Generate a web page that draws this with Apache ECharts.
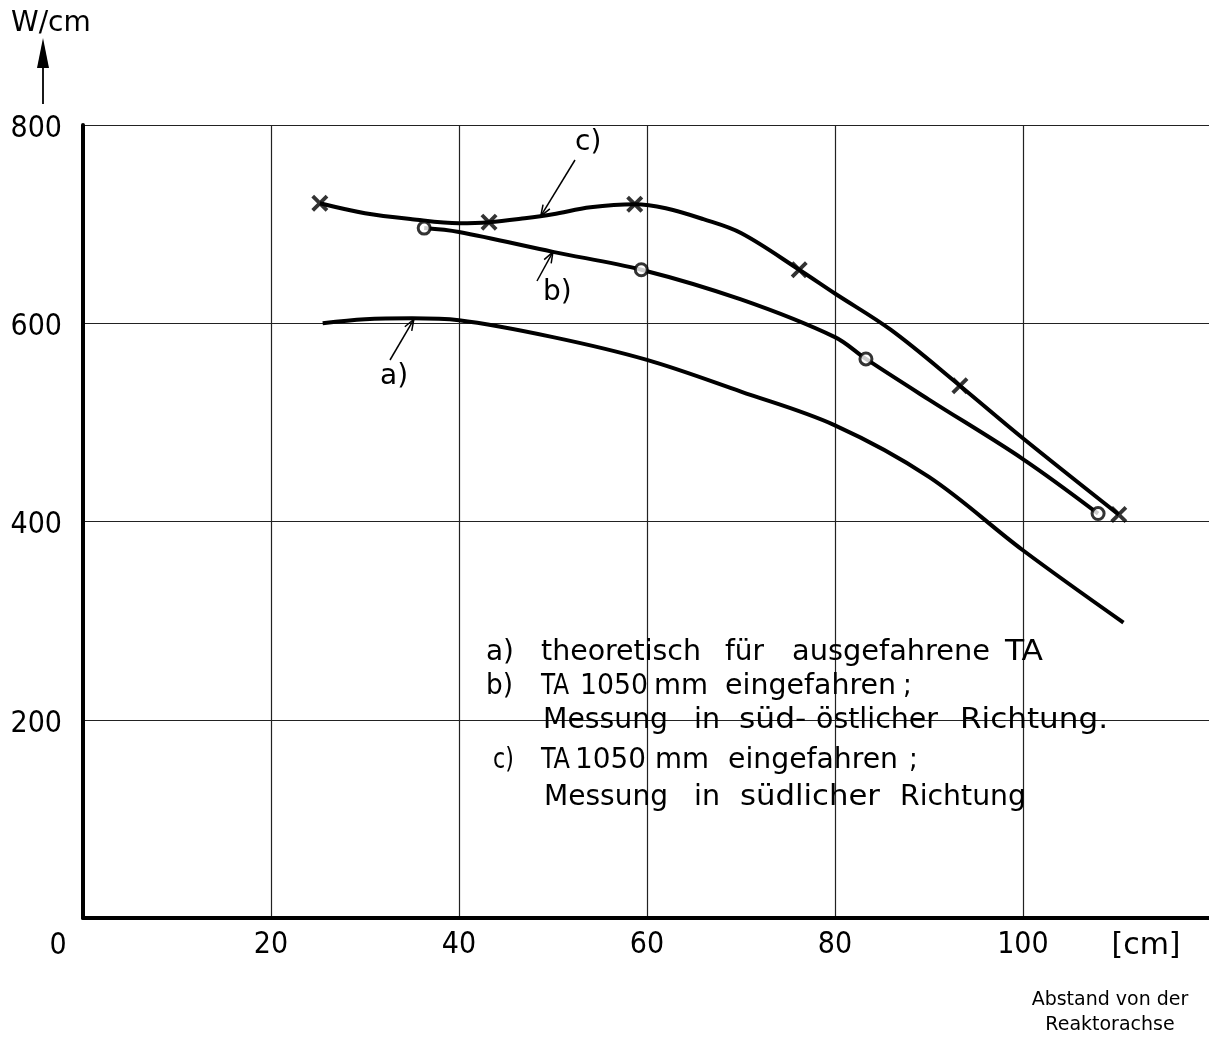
<!DOCTYPE html>
<html><head><meta charset="utf-8">
<script src="https://cdn.jsdelivr.net/npm/echarts@6/dist/echarts.min.js"></script>
<style>html,body{margin:0;padding:0;background:#fff}#c{width:1209px;height:1038px}</style>
</head><body><div id="c"></div>
<script>
// ---- data ----
const xMax = 119.8;
const yMax = 800;
const yTickLabels = ['200', '400', '600', '800'];
const xTickLabels = ['20', '40', '60', '80', '100'];

// a) theoretisch für ausgefahrene TA (curve only)
const curveA_x = [25.5, 30, 35, 40, 50, 60, 70, 80, 90, 100, 110.7];
const curveA_y = [600, 604, 605, 603, 586, 563, 531, 497, 445, 371, 298];
// b) TA 1050 mm eingefahren; süd-östlich (curve + circles)
const curveB_x = [36.3, 40, 50, 59.4, 70, 80, 83.3, 90, 100, 108];
const curveB_y = [696, 692, 672, 654, 624, 586, 564, 523, 463, 408];
const measB_x = [36.3, 59.4, 83.3, 108];
const measB_y = [696, 654, 564, 408];
// c) TA 1050 mm eingefahren; südlich (curve + crosses)
const curveC_x = [25.2, 30, 35, 40, 43.2, 47, 50, 54, 58.7, 62, 66, 70, 76.2, 80, 86, 93.3, 100, 110.2];
const curveC_y = [721, 711, 705, 701, 702, 706, 710, 717, 720, 716, 705, 691, 654, 630, 593, 537, 484, 407];
const measC_x = [25.2, 43.2, 58.7, 76.2, 93.3, 110.2];
const measC_y = [721, 702, 720, 654, 537, 407];

// legend text (words per line)
const legendWords = [
  ['a)', 'theoretisch', 'für', 'ausgefahrene', 'TA'],
  ['b)', 'TA', '1050', 'mm', 'eingefahren', ';'],
  ['Messung', 'in', 'süd-', 'östlicher', 'Richtung.'],
  ['c)', 'TA', '1050', 'mm', 'eingefahren', ';'],
  ['Messung', 'in', 'südlicher', 'Richtung']
];
// layout only: line centre y and [left, right] pixel extent of each word
const legendLineY = [652, 686, 720, 760, 797];
const legendWordBox = [
  [[486, 514], [541, 701], [725, 764], [792, 990], [1005, 1043]],
  [[486, 513], [541, 569], [580, 648], [654, 708], [725, 896], [903, 908]],
  [[543, 668], [694, 720], [739, 810], [816, 938], [960, 1108]],
  [[493, 513], [541, 570], [575, 646], [655, 709], [728, 898], [909, 914]],
  [[544, 668], [694, 720], [740, 880], [900, 1026]]
];

const zip = (xs, ys) => xs.map((x, i) => [x, ys[i]]);
const NUMFONT = "'DejaVu Sans Condensed','Liberation Sans Narrow','DejaVu Sans',sans-serif";
const TXTFONT = "'DejaVu Sans',sans-serif";
const LEGFONT = "'DejaVu Sans Condensed','DejaVu Sans',sans-serif";
const LEG_SIZE = 29;

const chart = echarts.init(document.getElementById('c'), null, {renderer: 'canvas'});
const crossPath = 'path://M0,1.6L1.6,0L5,3.4L8.4,0L10,1.6L6.6,5L10,8.4L8.4,10L5,6.6L1.6,10L0,8.4L3.4,5Z';
const lineStyle = {color: '#000', width: 4};

chart.setOption({
  animation: false,
  backgroundColor: '#fff',
  grid: {left: 83, right: 0, top: 125, bottom: 120, containLabel: false},
  xAxis: {
    type: 'value', min: 0, max: xMax, interval: 20,
    axisLine: {show: true, onZero: false, lineStyle: {color: '#000', width: 4}},
    axisTick: {show: false},
    splitLine: {show: true, showMaxLine: false, lineStyle: {color: '#222', width: 1.2}},
    axisLabel: {
      margin: 12, fontSize: 30, color: '#000', fontFamily: NUMFONT, showMaxLabel: false,
      formatter: v => xTickLabels.includes(String(v)) ? String(v) : ''
    }
  },
  yAxis: {
    type: 'value', min: 0, max: yMax, interval: 200,
    axisLine: {show: true, onZero: false, lineStyle: {color: '#000', width: 4}},
    axisTick: {show: false},
    splitLine: {show: true, lineStyle: {color: '#222', width: 1.2}},
    axisLabel: {show: false}
  },
  series: [
    {type: 'line', name: 'a', data: zip(curveA_x, curveA_y), smooth: 0.35, showSymbol: false, lineStyle},
    {type: 'line', name: 'b', data: zip(curveB_x, curveB_y), smooth: 0.35, showSymbol: false, lineStyle},
    {type: 'line', name: 'c', data: zip(curveC_x, curveC_y), smooth: 0.35, showSymbol: false, lineStyle},
    {type: 'scatter', name: 'b-mess', data: zip(measB_x, measB_y), symbol: 'circle', symbolSize: 12,
      itemStyle: {color: '#fff', borderColor: '#000', borderWidth: 3}, z: 5},
    {type: 'scatter', name: 'c-mess', data: zip(measC_x, measC_y), symbol: crossPath, symbolSize: 17,
      itemStyle: {color: '#000'}, z: 5}
  ]
});

// ---- annotations ----
function leader(fromPx, dataPt) {
  const to = chart.convertToPixel({gridIndex: 0}, dataPt);
  const dx = to[0] - fromPx[0], dy = to[1] - fromPx[1];
  const len = Math.hypot(dx, dy), ux = dx / len, uy = dy / len;
  const ah = 11, aw = 4;
  const bx = to[0] - ux * ah, by = to[1] - uy * ah;
  return [
    {type: 'line', shape: {x1: fromPx[0], y1: fromPx[1], x2: to[0], y2: to[1]}, style: {stroke: '#000', lineWidth: 1.5}},
    {type: 'polyline', shape: {points: [[bx - uy * aw, by + ux * aw], to, [bx + uy * aw, by - ux * aw]]},
      style: {stroke: '#000', lineWidth: 1.5, fill: null}}
  ];
}
function txt(x, y, s, size, align, font) {
  return {type: 'text', x, y, style: {text: s, font: size + 'px ' + (font || TXTFONT), fill: '#000',
    textAlign: align || 'left', textVerticalAlign: 'middle'}, z: 10};
}

const g = [];
// y tick labels (real text at the axis' own tick positions)
yTickLabels.forEach(l => {
  const p = chart.convertToPixel({gridIndex: 0}, [0, Number(l)]);
  g.push(txt(p[0] - 21, p[1] + 4, l, 30, 'right', NUMFONT));
});
// unit W/cm and arrow
g.push(txt(11, 24, 'W/cm', 28));
g.push({type: 'line', shape: {x1: 43, y1: 104, x2: 43, y2: 62}, style: {stroke: '#000', lineWidth: 1.8}});
g.push({type: 'polygon', shape: {points: [[37, 68], [49, 68], [43, 38]]}, style: {fill: '#000'}});
// origin and x unit
g.push(txt(58, 946, '0', 30, 'center', NUMFONT));
g.push(txt(1146, 946, '[cm]', 30, 'center'));
g.push(txt(1110, 1000, 'Abstand von der', 19, 'center'));
g.push(txt(1110, 1025, 'Reaktorachse', 19, 'center'));
// curve labels with leaders
g.push(txt(575, 143, 'c)', 28));
g.push(...leader([575, 160], [48.7, 708]));
g.push(txt(543, 293, 'b)', 28));
g.push(...leader([537, 281], [50, 672]));
g.push(txt(380, 377, 'a)', 28));
g.push(...leader([390, 360], [35.2, 604]));

// legend block: each word placed at its extent, mildly fitted
const font = LEG_SIZE + 'px ' + LEGFONT;
const mctx = document.createElement('canvas').getContext('2d');
mctx.font = font;
legendWords.forEach((words, li) => {
  words.forEach((w, wi) => {
    const box = legendWordBox[li][wi];
    const meas = mctx.measureText(w).width;
    let sx = (box[1] - box[0]) / meas;
    if (w === ';') sx = 1;
    sx = Math.max(0.85, Math.min(1.2, sx));
    g.push({type: 'text', x: box[0], y: legendLineY[li], scaleX: sx,
      style: {text: w, font, fill: '#000', textAlign: 'left', textVerticalAlign: 'middle'}, z: 10});
  });
});
chart.setOption({graphic: {elements: g}});
</script>
</body></html>
